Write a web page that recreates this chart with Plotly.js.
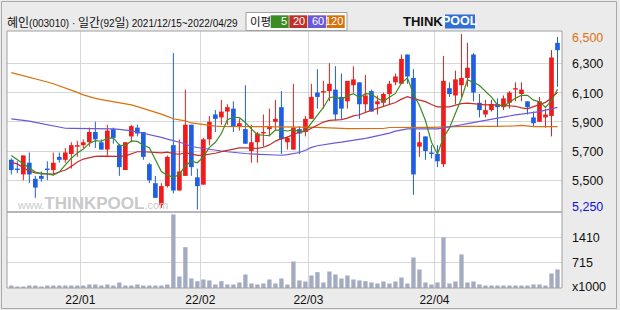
<!DOCTYPE html>
<html><head><meta charset="utf-8">
<script src="https://cdn.plot.ly/plotly-3.0.1.min.js"></script>
<style>html,body{margin:0;padding:0;background:#ebebeb}#chart{width:620px;height:310px}</style>
</head><body><div id="chart"></div>
<script>
const days = [
 '2021-12-15','2021-12-16','2021-12-17','2021-12-20','2021-12-21','2021-12-22','2021-12-23','2021-12-24','2021-12-27','2021-12-28','2021-12-29','2021-12-30',
 '2022-01-03','2022-01-04','2022-01-05','2022-01-06','2022-01-07','2022-01-10','2022-01-11','2022-01-12','2022-01-13','2022-01-14','2022-01-17','2022-01-18','2022-01-19','2022-01-20','2022-01-21','2022-01-24','2022-01-25','2022-01-26','2022-01-27','2022-01-28',
 '2022-02-03','2022-02-04','2022-02-07','2022-02-08','2022-02-09','2022-02-10','2022-02-11','2022-02-14','2022-02-15','2022-02-16','2022-02-17','2022-02-18','2022-02-21','2022-02-22','2022-02-23','2022-02-24','2022-02-25','2022-02-28',
 '2022-03-02','2022-03-03','2022-03-04','2022-03-07','2022-03-08','2022-03-10','2022-03-11','2022-03-14','2022-03-15','2022-03-16','2022-03-17','2022-03-18','2022-03-21','2022-03-22','2022-03-23','2022-03-24','2022-03-25','2022-03-28','2022-03-29','2022-03-30','2022-03-31',
 '2022-04-01','2022-04-04','2022-04-05','2022-04-06','2022-04-07','2022-04-08','2022-04-11','2022-04-12','2022-04-13','2022-04-14','2022-04-15','2022-04-18','2022-04-19','2022-04-20','2022-04-21','2022-04-22','2022-04-25','2022-04-26','2022-04-27','2022-04-28','2022-04-29'];

const open  = [5640,5580,5540,5620,5510,5530,5580,5570,5660,5640,5680,5730,5740,5760,5830,5760,5710,5850,5740,5570,5800,5860,5830,5610,5480,5330,5460,5740,5430,5530,5880,5520,5470,5780,5950,5930,5970,5990,5870,5850,5700,5760,5820,5850,5900,6000,5760,5710,5850,5830,5920,6100,6100,6110,6120,6070,6040,6150,6170,6020,6110,6020,6030,6090,6170,6160,6360,6200,5730,5800,5690,5680,5610,6130,6080,6150,6200,6360,6030,5950,5980,6020,6000,6030,6120,6090,6040,5930,5900,5930,5940,6440];
const high  = [5650,5630,5670,5690,5530,5560,5630,5690,5690,5720,5760,5770,5780,5860,5900,5780,5880,5860,5750,5760,5880,5880,5830,5620,5530,5480,5670,6370,5780,6120,5880,5580,5790,5940,5980,6050,6020,6040,5920,6150,5880,5830,5950,5990,6050,6110,5800,6160,5870,5940,6160,6260,6180,6300,6280,6230,6180,6280,6170,6220,6120,6080,6100,6180,6230,6360,6360,6260,5830,5800,5740,5740,6350,6170,6250,6500,6440,6370,6090,6050,6050,6060,6080,6110,6170,6170,6040,5970,6070,5990,6390,6480];
const low   = [5540,5550,5500,5480,5380,5490,5500,5540,5620,5620,5580,5660,5720,5730,5720,5710,5660,5750,5530,5570,5760,5800,5640,5480,5380,5310,5450,5410,5430,5530,5530,5300,5470,5740,5830,5880,5880,5830,5840,5750,5620,5620,5730,5800,5840,5680,5710,5710,5680,5800,5920,5990,5990,6040,5910,5920,5990,6100,5920,5960,5970,5950,6000,6020,6150,6160,6160,5400,5660,5640,5650,5590,5590,6070,6020,6070,6140,6040,5930,5930,5970,5870,5980,5990,6040,6040,5950,5870,5900,5860,5800,6140];
const close = [5570,5570,5670,5540,5450,5510,5570,5620,5640,5690,5740,5740,5760,5830,5780,5710,5840,5790,5590,5760,5870,5820,5660,5500,5380,5460,5660,5430,5560,5880,5590,5460,5780,5900,5920,5970,6000,5870,5890,5750,5760,5820,5830,5870,5920,5780,5790,5860,5820,5920,6070,6070,6110,6160,5950,5990,6180,6190,6020,6080,5970,6040,6090,6160,6210,6330,6210,5540,5760,5700,5680,5630,6180,6090,6190,6200,6270,6100,5980,5980,6020,6000,6060,6100,6130,6120,6000,5890,6040,5950,6340,6390];
const volume = [70,42,42,70,70,42,70,70,70,70,70,70,70,99,99,70,99,70,155,70,70,99,70,70,70,70,99,2073,324,1150,268,192,240,212,99,192,99,99,155,381,127,99,127,240,127,268,99,747,212,183,353,446,155,465,381,268,353,240,212,192,155,127,183,127,183,296,127,860,522,155,99,155,1424,127,183,945,155,183,99,70,70,70,70,70,70,70,70,99,99,70,409,522];
const ma5   = [5670,5640,5615,5580,5556,5544,5544,5535,5557,5605,5651,5686,5714,5752,5771,5767,5786,5790,5741,5737,5769,5766,5740,5723,5645,5560,5535,5520,5540,5600,5630,5620,5660,5725,5760,5820,5914,5931,5928,5895,5852,5812,5808,5806,5843,5843,5837,5844,5835,5836,5893,5947,5998,6066,6070,6054,6077,6093,6064,6092,6089,6061,6040,6068,6094,6165,6199,6090,6011,5909,5760,5680,5792,5858,5955,6059,6187,6171,6148,6106,6069,6015,6008,6032,6062,6081,6081,6048,6037,5999,6044,6123];
const ma20  = [5622,5612,5585,5562,5551,5546,5544,5543,5555,5570,5595,5625,5645,5655,5663,5665,5663,5662,5664,5667,5682,5695,5695,5693,5689,5687,5692,5682,5678,5688,5680,5670,5672,5678,5685,5696,5705,5710,5722,5722,5718,5718,5726,5742,5768,5785,5795,5815,5830,5835,5855,5880,5898,5910,5914,5915,5925,5940,5948,5965,5980,5992,6005,6018,6032,6055,6072,6058,6050,6038,6018,6002,6003,6002,6014,6024,6028,6023,6021,6016,6018,6016,6015,6012,6006,5995,5988,6004,6018,6033,6063,6101];
const ma60  = [5920,5916,5912,5905,5896,5888,5878,5868,5860,5856,5855,5855,5854,5854,5853,5853,5852,5851,5848,5845,5838,5830,5822,5813,5803,5793,5781,5772,5760,5748,5731,5724,5717,5711,5707,5700,5695,5690,5686,5683,5680,5678,5676,5673,5671,5671,5675,5680,5690,5705,5725,5736,5744,5750,5756,5761,5766,5772,5778,5786,5795,5803,5810,5823,5836,5845,5851,5852,5852,5851,5851,5852,5858,5864,5872,5880,5888,5896,5903,5910,5916,5924,5932,5940,5947,5952,5957,5962,5970,5980,5990,5998];
const ma120 = [6236,6226,6217,6207,6196,6184,6172,6160,6146,6132,6118,6101,6084,6070,6060,6052,6045,6038,6032,6024,6016,6004,5992,5978,5968,5952,5937,5921,5913,5907,5892,5886,5879,5875,5871,5869,5868,5868,5868,5868,5867,5867,5867,5867,5867,5866,5866,5866,5864,5864,5864,5862,5860,5858,5853,5853,5853,5853,5853,5853,5853,5853,5854,5861,5862,5862,5862,5862,5862,5862,5862,5862,5864,5866,5867,5868,5869,5869,5869,5869,5869,5869,5869,5869,5872,5876,5869,5867,5867,5867,5867,5867];
const priceTicks = [6300,6100,5900,5700,5500];
const volTicks = [715,1410];
const maxLabel = '6,500', minLabel = '5,250', volUnit = 'x1000';
const title = '혜인(003010) · 일간(92일) 2021/12/15~2022/04/29';
const maNames = ['5','20','60','120'];

const UP='#f01c1c', DOWN='#1f5fe4';
const MAC=['#3c8c22','#c0302a','#6a5ad8','#d9700e'];
const FONT="'Liberation Sans', Arial, sans-serif";
const idx = days.map((d,i)=>i);
const fmt = v => v.toLocaleString('en-US');

const mPos=[], mLbl=[];
for(let k=1;k<days.length;k++){ if(days[k].slice(0,7)!==days[k-1].slice(0,7)){ mPos.push(k-0.5); mLbl.push(days[k].slice(2,4)+'/'+days[k].slice(5,7)); } }

const isUp = idx.map(i=>close[i]>=open[i]);
const bodyBase = idx.map(i=>Math.min(open[i],close[i]));
const bodyH = idx.map(i=>Math.max(Math.abs(close[i]-open[i]),7));
function wick(up){ const x=[],y=[]; idx.forEach(i=>{ if(isUp[i]===up){x.push(i,i,null);y.push(low[i],high[i],null);} }); return {x,y}; }
const wu=wick(true), wd=wick(false);

const traces=[
 {type:'bar',x:idx,y:volume,width:0.72,marker:{color:'#a3abc3',line:{width:0}},xaxis:'x',yaxis:'y2',hoverinfo:'skip'},
 {type:'scatter',mode:'lines',x:wu.x,y:wu.y,line:{color:UP,width:1},xaxis:'x',yaxis:'y',hoverinfo:'skip'},
 {type:'scatter',mode:'lines',x:wd.x,y:wd.y,line:{color:DOWN,width:1},xaxis:'x',yaxis:'y',hoverinfo:'skip'},
 {type:'bar',x:idx,y:bodyH,base:bodyBase,width:0.78,marker:{color:idx.map(i=>isUp[i]?UP:DOWN),line:{width:0}},xaxis:'x',yaxis:'y',hoverinfo:'skip'},
];
[ma120,ma60,ma20,ma5].forEach((m,j)=>{
  traces.push({type:'scatter',mode:'lines',x:idx,y:m,line:{color:MAC[3-j],width:1.2},xaxis:'x',yaxis:'y',hoverinfo:'skip'});
});

const L=7,W=555,B=288,H=257;
const px=v=>(v-L)/W, py=v=>(B-v)/H;
const dom=(288-212)/257;
const PMIN=5283, PMAX=6521, VMAX=2140;
const priceY = p => 212 - (p-PMIN)/(PMAX-PMIN)*181;
const volY = v => 288 - v/VMAX*76;

const shapes=[
 {type:'rect',xref:'paper',yref:'paper',x0:px(1.5),x1:px(616.5),y0:py(308.5),y1:py(1.5),line:{color:'#a9a9a9',width:1},fillcolor:'rgba(0,0,0,0)',layer:'below'},
 {type:'rect',xref:'paper',yref:'paper',x0:0,x1:1,y0:dom,y1:1,line:{color:'#a0a0a0',width:1},layer:'above'},
 {type:'rect',xref:'paper',yref:'paper',x0:0,x1:1,y0:0,y1:dom,line:{color:'#a0a0a0',width:1},layer:'above'},
 {type:'rect',xref:'paper',yref:'paper',x0:px(246),x1:px(347),y0:py(30.5),y1:py(12.5),line:{color:'#a0a0a0',width:1},fillcolor:'#ffffff',layer:'above'},
 {type:'rect',xref:'paper',yref:'paper',x0:px(445),x1:px(475),y0:py(28.5),y1:py(14.5),line:{width:0},fillcolor:'#2f6fd6',layer:'above'}
];
const boxX=[[270.7,288.7],[289.3,307.3],[308,326],[326.7,344.7]];
const titleHtml = title.replace(/([\uAC00-\uD7A3]+)/g,'<span style="font-family:\'Noto Sans CJK KR\';font-size:12px">$1</span>');
const annotations=[
 {text:titleHtml,xref:'paper',yref:'paper',x:px(6),y:py(22),xanchor:'left',yanchor:'middle',showarrow:false,borderpad:0,font:{family:FONT,size:10,color:'#111'}},
 {text:'이평',xref:'paper',yref:'paper',x:px(260.5),y:py(21.5),xanchor:'center',yanchor:'middle',showarrow:false,borderpad:0,font:{family:"'Noto Sans CJK KR'",size:11.5,color:'#111'}},
 {text:'THINK',xref:'paper',yref:'paper',x:px(444),y:py(21.5),xanchor:'right',yanchor:'middle',showarrow:false,borderpad:0,font:{family:FONT,size:13,weight:'bold',color:'#111'}},
 {text:'POOL',xref:'paper',yref:'paper',x:px(460),y:py(21.5),xanchor:'center',yanchor:'middle',showarrow:false,borderpad:0,font:{family:FONT,size:12.5,weight:'bold',color:'#ffffff'}},
 {text:'<span style="font-size:11px">www.</span><span style="font-size:17px;font-weight:bold">THINKPOOL</span><span style="font-size:11px">.com</span>',xref:'paper',yref:'paper',x:px(92),y:py(203),xanchor:'center',yanchor:'middle',showarrow:false,borderpad:0,font:{family:FONT,size:11,color:'#c9c9c9'}},
 {text:maxLabel,xref:'paper',yref:'paper',x:px(571),y:py(38),xanchor:'left',yanchor:'middle',showarrow:false,borderpad:0,font:{family:FONT,size:12.5,color:'#e07010'}},
 {text:minLabel,xref:'paper',yref:'paper',x:px(571),y:py(207),xanchor:'left',yanchor:'middle',showarrow:false,borderpad:0,font:{family:FONT,size:12.5,color:'#1010e0'}},
 {text:volUnit,xref:'paper',yref:'paper',x:px(571),y:py(287),xanchor:'left',yanchor:'middle',showarrow:false,borderpad:0,font:{family:FONT,size:12.5,color:'#111'}}
];
priceTicks.forEach(p=>annotations.push({text:fmt(p),xref:'paper',yref:'paper',x:px(571),y:py(priceY(p)+1),xanchor:'left',yanchor:'middle',showarrow:false,borderpad:0,font:{family:FONT,size:12.5,color:'#111'}}));
volTicks.forEach(v=>annotations.push({text:String(v),xref:'paper',yref:'paper',x:px(571),y:py(volY(v)),xanchor:'left',yanchor:'middle',showarrow:false,borderpad:0,font:{family:FONT,size:12.5,color:'#111'}}));
maNames.forEach((n,k)=>{
  shapes.push({type:'rect',xref:'paper',yref:'paper',x0:px(boxX[k][0]),x1:px(boxX[k][1]),y0:py(28),y1:py(15.3),line:{width:0},fillcolor:MAC[k],layer:'above'});
  annotations.push({text:n,xref:'paper',yref:'paper',x:px(boxX[k][1]-1),y:py(21.5),xanchor:'right',yanchor:'middle',showarrow:false,borderpad:0,font:{family:FONT,size:11,color:'#ffffff'}});
});

const layout={
 width:620,height:310,margin:{l:L,r:620-L-W,t:31,b:310-B,pad:0},
 paper_bgcolor:'#ebebeb',plot_bgcolor:'#ffffff',showlegend:false,barmode:'overlay',
 xaxis:{anchor:'y2',range:[-0.72,91.75],tickvals:mPos,ticktext:mLbl,showgrid:true,gridcolor:'#d6d6d6',zeroline:false,showline:false,ticks:'',ticklabelstandoff:3,tickfont:{family:FONT,size:12,color:'#111'}},
 yaxis:{domain:[dom,1],anchor:'x',side:'right',range:[PMIN,PMAX],tickvals:priceTicks,showticklabels:false,showgrid:true,gridcolor:'#d6d6d6',zeroline:false,showline:false,ticks:''},
 yaxis2:{domain:[0,dom],anchor:'x',side:'right',range:[0,VMAX],tickvals:volTicks,showticklabels:false,showgrid:true,gridcolor:'#d6d6d6',zeroline:false,showline:false,ticks:''},
 shapes,annotations
};
Plotly.newPlot('chart',traces,layout,{staticPlot:true,displayModeBar:false});
</script></body></html>
